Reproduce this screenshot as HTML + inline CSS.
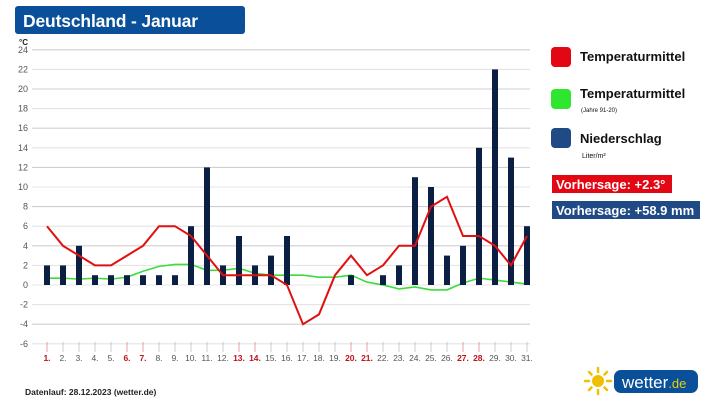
<!DOCTYPE html><html><head><style>body{margin:0;background:#fff;font-family:"Liberation Sans",sans-serif}</style></head><body>
<svg width="717" height="403" xmlns="http://www.w3.org/2000/svg" font-family="Liberation Sans, sans-serif">
<rect x="15" y="6" width="230" height="28" rx="3" fill="#0a4f9a"/>
<text x="23" y="27" font-size="17.5" font-weight="bold" fill="#fff" textLength="175">Deutschland - Januar</text>
<text x="19" y="45" font-size="8" font-weight="bold" fill="#222">°C</text>
<g id="grid"></g>
<g id="c"></g>
<text x="25" y="395" font-size="8.5" font-weight="bold" fill="#222">Datenlauf: 28.12.2023 (wetter.de)</text>
<rect x="551" y="47" width="20" height="20" rx="4" fill="#e30613"/>
<text x="580" y="61" font-size="13" font-weight="bold" fill="#111">Temperaturmittel</text>
<rect x="551" y="89" width="20" height="20" rx="4" fill="#2ee62e"/>
<text x="580" y="98" font-size="13" font-weight="bold" fill="#111">Temperaturmittel</text>
<text x="581" y="112" font-size="6" fill="#111">(Jahre 91-20)</text>
<rect x="551" y="128" width="20" height="20" rx="4" fill="#1f4a86"/>
<text x="580" y="143" font-size="13" font-weight="bold" fill="#111">Niederschlag</text>
<text x="582" y="158" font-size="7" fill="#111">Liter/m²</text>
<rect x="552" y="175" width="120" height="18" fill="#e30613"/>
<text x="556" y="189" font-size="13" font-weight="bold" fill="#fff">Vorhersage: +2.3°</text>
<rect x="552" y="201" width="148" height="18" fill="#1f4a86"/>
<text x="556" y="215" font-size="13" font-weight="bold" fill="#fff">Vorhersage: +58.9 mm</text>
<g transform="translate(598,381)" stroke="#f0c000" stroke-width="2.5" stroke-linecap="round">
<line x1="-13" y1="0" x2="-9" y2="0"/><line x1="9" y1="0" x2="13" y2="0"/><line x1="0" y1="-13" x2="0" y2="-9"/><line x1="0" y1="9" x2="0" y2="13"/>
<line x1="-9" y1="-9" x2="-6.5" y2="-6.5"/><line x1="9" y1="9" x2="6.5" y2="6.5"/><line x1="-9" y1="9" x2="-6.5" y2="6.5"/><line x1="9" y1="-9" x2="6.5" y2="-6.5"/>
<circle r="6" fill="#f0c000" stroke="none"/></g>
<rect x="614" y="370" width="84" height="23" rx="7" fill="#0a4f9a"/>
<text x="622" y="388" font-size="17" fill="#fff">wetter<tspan fill="#e6d200" font-size="13">.de</tspan></text>
</svg>
<script>
const ns="http://www.w3.org/2000/svg";
const Y=v=>285-9.8*v, X=d=>47+16*(d-1);
const g=document.getElementById('grid'),c=document.getElementById('c');
function el(t,a,p){const e=document.createElementNS(ns,t);for(const k in a)e.setAttribute(k,a[k]);(p||c).appendChild(e);return e;}
for(let v=-6;v<=24;v+=2){el('line',{x1:32,x2:530,y1:Y(v),y2:Y(v),stroke:(v%4==0&&v!=0)?'#cfcfcf':'#e4e4e4','stroke-width':1.1},g);
const t=el('text',{x:28,y:Y(v)+3,'font-size':9,fill:'#555','text-anchor':'end'},g);t.textContent=v;}
const red=[1,6,7,13,14,20,21,27,28];
for(let d=1;d<=31;d++){el('line',{x1:X(d),x2:X(d),y1:342,y2:352,stroke:red.includes(d)?'#e8a0a0':'#ccc'},g);
const t=el('text',{x:X(d),y:361,'font-size':8.5,'text-anchor':'middle',fill:red.includes(d)?'#c0101a':'#555','font-weight':red.includes(d)?'bold':'normal'},g);t.textContent=d+'.';}
const bars=[2,2,4,1,1,1,1,1,1,6,12,2,5,2,3,5,0,0,0,1,0,1,2,11,10,3,4,14,22,13,6];
const rd=[6,4,3,2,2,3,4,6,6,5,3,1,1,1,1,0,-4,-3,1,3,1,2,4,4,8,9,5,5,4,2,5];
const gr=[0.7,0.7,0.6,0.7,0.6,0.8,1.4,1.9,2.1,2.1,1.5,1.5,1.7,1.2,1.0,1.0,1.0,0.8,0.8,1.0,0.3,0,-0.4,-0.2,-0.5,-0.5,0.2,0.7,0.5,0.3,0.1];
el('polyline',{points:gr.map((v,i)=>X(i+1)+','+Y(v)).join(' '),fill:'none',stroke:'#3ddc3d','stroke-width':1.6});
bars.forEach((v,i)=>{if(v>0)el('rect',{x:X(i+1)-3,y:Y(v),width:6,height:9.8*v,fill:'#0b1f44'});});
el('polyline',{points:rd.map((v,i)=>X(i+1)+','+Y(v)).join(' '),fill:'none',stroke:'#e01010','stroke-width':2});
</script></body></html>
